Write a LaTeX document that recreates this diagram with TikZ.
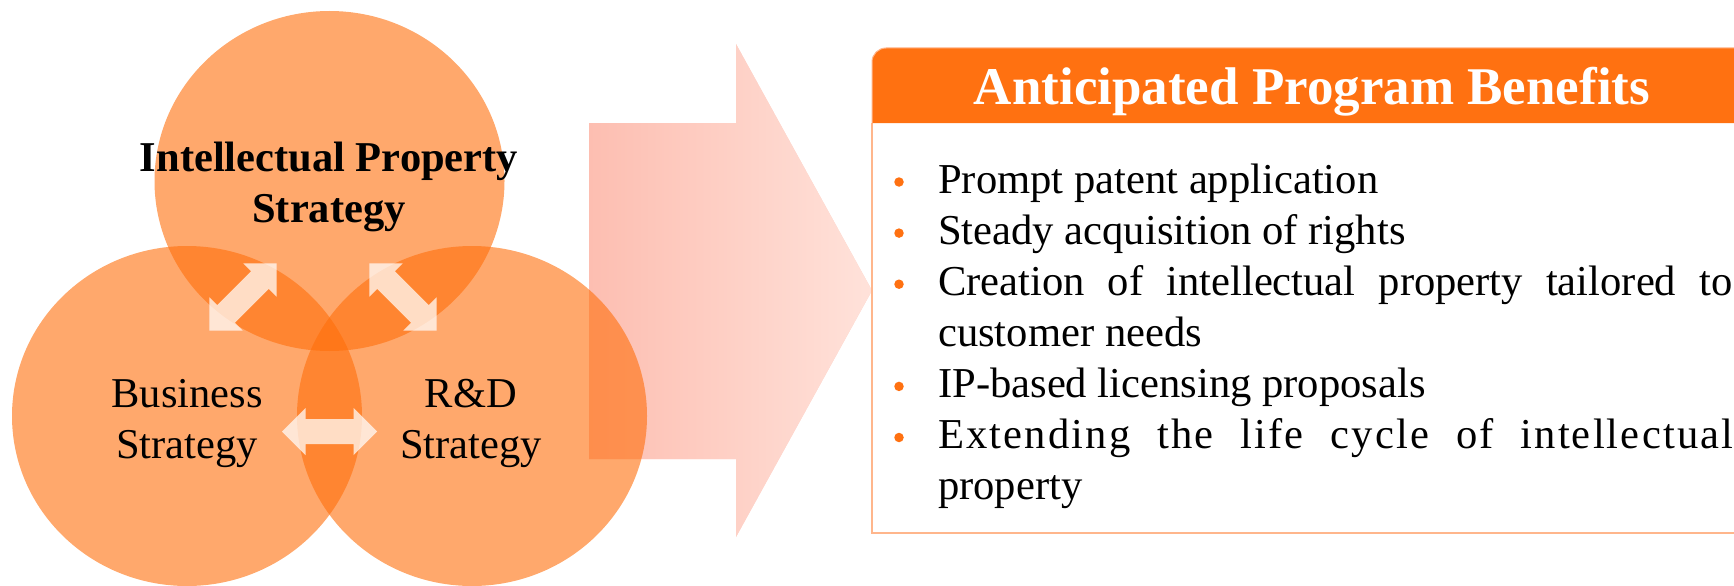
\documentclass[tikz,border=0pt]{standalone}
\usepackage{fontspec}
\setmainfont[Ligatures=NoCommon]{Liberation Serif}
\usetikzlibrary{shapes.geometric}
\definecolor{circ}{RGB}{255,110,10}
\definecolor{hdr}{RGB}{255,113,17}
\definecolor{boxline}{RGB}{255,182,140}
\definecolor{arrL}{RGB}{253,190,177}
\definecolor{arrR}{RGB}{255,226,218}
\newcommand{\fsz}[1]{\fontsize{#1}{#1}\selectfont}
\begin{document}
\begin{tikzpicture}[x=1pt,y=-1pt,
  venn/.style={fill=circ, fill opacity=0.6},
  dblarrow/.style={fill=white, fill opacity=0.72},
  lbl/.style={inner sep=0pt, anchor=base, font=\fsz{42.5}},
  lblb/.style={inner sep=0pt, anchor=base, font=\fsz{42.5}\bfseries},
  item/.style={inner sep=0pt, anchor=base west, font=\fsz{42.6}},
  bdot/.style={circle, fill=hdr, inner sep=0pt, minimum size=9.5pt},
]
\useasboundingbox (0,0) rectangle (1734,586);
\clip (0,0) rectangle (1734,586);

% big gradient arrow
\fill[arrR!60!arrL] (589,123) -- (736,123) -- (736,44) -- (872,290.5) -- (736,537) -- (736,459) -- (589,459) -- cycle;
\shade[left color=arrL, right color=arrR] (589,123) -- (736,123) -- (736,44) -- (872,290.5) -- (736,537) -- (736,459) -- (589,459) -- cycle;

% circles
\fill[venn] (329.5,181) ellipse [x radius=175pt, y radius=170pt];
\fill[venn] (187,416) ellipse [x radius=175pt, y radius=170pt];
\fill[venn] (472,416) ellipse [x radius=175pt, y radius=170pt];

% white double arrows
\fill[dblarrow, shift={(243,297)}, rotate=45] (-47.5,0) -- (-24,-23.5) -- (-24,-12.5) -- (24,-12.5) -- (24,-23.5) -- (47.5,0) -- (24,23.5) -- (24,12.5) -- (-24,12.5) -- (-24,23.5) -- cycle;
\fill[dblarrow, shift={(403,297)}, rotate=-45] (-47.5,0) -- (-24,-23.5) -- (-24,-12.5) -- (24,-12.5) -- (24,-23.5) -- (47.5,0) -- (24,23.5) -- (24,12.5) -- (-24,12.5) -- (-24,23.5) -- cycle;
\fill[dblarrow, shift={(329.5,431.5)}] (-47.5,0) -- (-24,-23.5) -- (-24,-12.5) -- (24,-12.5) -- (24,-23.5) -- (47.5,0) -- (24,23.5) -- (24,12.5) -- (-24,12.5) -- (-24,23.5) -- cycle;

% circle labels
\node[lblb] (ipA) at (329,171) {Intellectual Property};
\node[lblb] (ipB) at (329,222) {Strategy};
\node[lbl] (busA) at (187,407) {Business};
\node[lbl] (busB) at (187,458) {Strategy};
\node[lbl] (rdA) at (471,407) {R\&D};
\node[lbl] (rdB) at (471,458) {Strategy};

% benefits box
\fill[white] (872,123) rectangle (1770,533);
\draw[boxline, line width=1.5pt] (872,123) -- (872,533) -- (1770,533);
\filldraw[fill=hdr, draw=boxline, line width=1pt] (872,123) [rounded corners=14pt] -- (872,48) -- (1770,48) -- (1770,123);
\node[inner sep=0pt, anchor=base, text=white, font=\fsz{53}\bfseries] (hdrtxt) at (1312,104) {Anticipated Program Benefits};

% bullets
\node[bdot] (d1) at (899,182) {};
\node[bdot] (d2) at (899,233.1) {};
\node[bdot] (d3) at (899,284.2) {};
\node[bdot] (d5) at (899,386.4) {};
\node[bdot] (d6) at (899,437.5) {};
\node[item] (t1) at (938,193) {Prompt patent application};
\node[item] (t2) at (938,244.1) {Steady acquisition of rights};
\node[item] (t3) at (938,295.2) {\makebox[794pt][s]{Creation of intellectual property tailored to}};
\node[item] (t4) at (938,346.3) {customer needs};
\node[item] (t5) at (938,397.4) {IP-based licensing proposals};
\node[item] (t6) at (938,448.5) {\makebox[795pt][s]{\addfontfeature{LetterSpace=5}Extending the life cycle of intellectual}};
\node[item] (t7) at (938,499.6) {property};
\end{tikzpicture}
\end{document}
